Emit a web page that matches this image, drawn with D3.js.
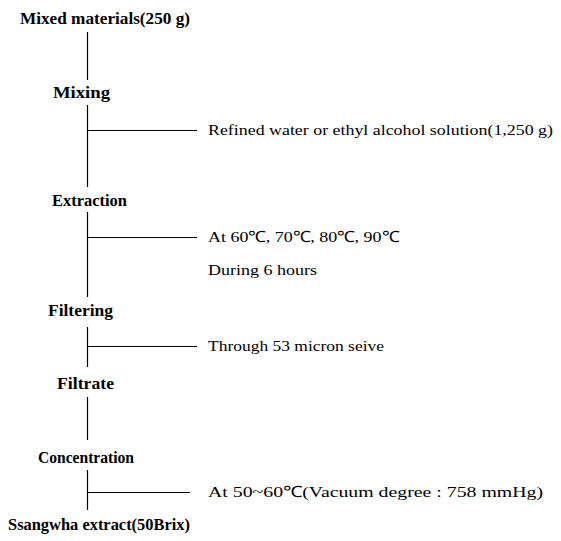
<!DOCTYPE html>
<html><head><meta charset="utf-8">
<script src="https://cdn.jsdelivr.net/npm/d3@7"></script>
<style>body{margin:0;background:#fff}svg{display:block}</style>
</head><body>
<script>
// ---- data ----
const steps = ["Mixed materials(250 g)","Mixing","Extraction","Filtering","Filtrate","Concentration","Ssangwha extract(50Brix)"];
const notes = [
  {after:1, lines:["Refined water or ethyl alcohol solution(1,250 g)"]},
  {after:2, lines:["At 60\u2103, 70\u2103, 80\u2103, 90\u2103","During 6 hours"]},
  {after:3, lines:["Through 53 micron seive"]},
  {after:5, lines:["At 50~60\u2103(Vacuum degree : 758 mmHg)"]}
];

// ---- layout (positions kept separate from data) ----
const W=561,H=541;
const stepY=[18,92,200,310,383,457,524];
const stepX=[[20,190],[53,110],[52,127],[48,113],[57,114],[38,134],[8,190]];
const segs=[[32,80],[105,187],[212,297],[327,367],[397,440],[470,510]];
const branchY={1:130,2:237,3:346,5:492};
const branchEnd={1:197,2:197,3:197,5:190};
const noteXs={1:[[208,553]],2:[[208,399],[208,317]],3:[[208,384]],5:[[208,543]]};
const noteLineGap=33;
const lineX=87.5;

const svg=d3.select("body").append("svg").attr("width",W).attr("height",H);
const y=d3.scaleLinear().domain([0,H]).range([0,H]);

// vertical segments
svg.selectAll("line.v").data(segs).join("line").attr("class","v")
  .attr("x1",lineX).attr("x2",lineX)
  .attr("y1",d=>y(d[0])).attr("y2",d=>y(d[1]))
  .attr("stroke","#000").attr("stroke-width",1.2);

// step labels
svg.selectAll("text.step").data(steps).join("text").attr("class","step")
  .attr("x",(d,i)=>stepX[i][0]).attr("y",(d,i)=>y(stepY[i]))
  .attr("dy","0.35em")
  .attr("textLength",(d,i)=>stepX[i][1]-stepX[i][0])
  .attr("lengthAdjust","spacingAndGlyphs")
  .style("font-family","'Liberation Serif',serif").style("font-weight","bold").style("font-size","16.5px")
  .text(d=>d);

// branches + notes
const g=svg.selectAll("g.note").data(notes).join("g").attr("class","note");
g.append("line")
  .attr("x1",lineX).attr("x2",d=>branchEnd[d.after])
  .attr("y1",d=>y(branchY[d.after])+0.5).attr("y2",d=>y(branchY[d.after])+0.5)
  .attr("stroke","#000").attr("stroke-width",1.2);
g.each(function(d){
  d3.select(this).selectAll("text").data(d.lines.map((t,k)=>({t,k,a:d.after}))).join("text")
    .attr("x",e=>noteXs[e.a][e.k][0])
    .attr("y",e=>y(branchY[e.a]+e.k*noteLineGap))
    .attr("dy","0.35em")
    .attr("textLength",e=>noteXs[e.a][e.k][1]-noteXs[e.a][e.k][0])
    .attr("lengthAdjust","spacingAndGlyphs")
    .style("font-family","'Liberation Serif',serif").style("font-size","15.5px")
    .text(e=>e.t);
});
</script>
</body></html>
